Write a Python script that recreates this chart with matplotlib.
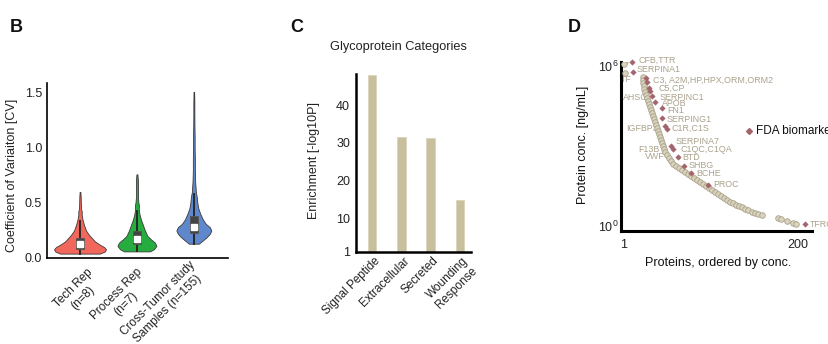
import matplotlib
matplotlib.use("Agg")
import matplotlib.pyplot as plt
import numpy as np

plt.rcParams['font.family'] = ['Liberation Sans', 'DejaVu Sans']
plt.rcParams['mathtext.fontset'] = 'custom'
plt.rcParams['mathtext.rm'] = 'Liberation Sans'
plt.rcParams['mathtext.it'] = 'Liberation Sans:italic'

W, H = 829, 344

# ---------------- Panel B data ----------------
cv_groups = ["Tech Rep\n(n=8)", "Process Rep\n(n=7)", "Cross-Tumor study\nSamples (n=155)"]
cv_colors = ["#f2675c", "#27ad3f", "#5f87cc"]
# violin density profiles: CV level -> relative half width
tech_y = [0.04, 0.06, 0.08, 0.10, 0.12, 0.15, 0.18, 0.21, 0.25, 0.30, 0.35, 0.40, 0.42, 0.45, 0.50, 0.55, 0.60]
tech_w = [20, 25, 26, 24, 20, 15, 12, 9, 6, 4, 2.5, 1.6, 1.8, 1.0, 0.8, 0.7, 0.4]
proc_y = [0.06, 0.08, 0.11, 0.14, 0.17, 0.20, 0.25, 0.30, 0.35, 0.40, 0.45, 0.48, 0.50, 0.55, 0.60, 0.70, 0.76]
proc_w = [13, 17, 19.5, 18, 14, 10.5, 8, 6, 4, 2.5, 1.8, 2.0, 1.5, 1.0, 1.0, 1.0, 0.5]
tumor_y = [0.13, 0.16, 0.19, 0.22, 0.25, 0.28, 0.31, 0.35, 0.40, 0.45, 0.50, 0.55, 0.60, 0.70, 0.80, 0.90, 1.00, 1.10, 1.20, 1.30, 1.40, 1.51]
tumor_w = [5, 9, 13, 16, 17.5, 16, 12, 9, 6.5, 4.5, 3.5, 3, 2, 1.3, 1, 1, 0.8, 0.8, 0.6, 0.5, 0.5, 0.3]
cv_q1 = [0.08, 0.125, 0.23]
cv_med = [0.125, 0.17, 0.28]
cv_q3 = [0.18, 0.245, 0.38]
cv_wlo = [0.04, 0.06, 0.13]
cv_whi = [0.34, 0.43, 0.58]

# ---------------- Panel C data ----------------
go_terms = ["Signal Peptide", "Extracellular", "Secreted", "Wounding\nResponse"]
go_enrich = [48.0, 31.6, 31.2, 14.7]

# ---------------- Panel D data ----------------
prot_rank = [2, 1, 2, 23, 23, 23, 24, 24, 25, 26, 27, 28, 30, 31, 32, 33, 34, 35, 36, 38, 39, 40, 41, 42,
             43, 44, 46, 47, 48, 50, 52, 55, 57, 60, 64, 67, 71, 74, 78, 81, 85, 88, 91, 95, 98, 102, 105,
             109, 112, 115, 119, 122, 126, 129, 133, 136, 139, 143, 147, 151, 154, 159, 177, 181, 187, 194, 198]
prot_log = [6.18, 6.07, 5.73, 5.58, 5.47, 5.36, 5.24, 5.13, 5.02, 4.91, 4.79, 4.68, 4.57, 4.46, 4.34, 4.23,
            4.12, 4.01, 3.90, 3.78, 3.67, 3.56, 3.45, 3.33, 3.22, 3.11, 3.00, 2.88, 2.77, 2.66, 2.55, 2.43,
            2.32, 2.25, 2.17, 2.10, 2.02, 1.95, 1.87, 1.80, 1.72, 1.65, 1.57, 1.50, 1.42, 1.35, 1.27, 1.20,
            1.12, 1.05, 0.97, 0.90, 0.86, 0.79, 0.75, 0.71, 0.64, 0.60, 0.52, 0.49, 0.45, 0.41, 0.30, 0.26,
            0.19, 0.11, 0.07]
fda_rank = [10, 11, 26, 27, 30, 31, 33, 36, 44, 45, 48, 50, 55, 57, 63, 70, 78, 97, 208]
fda_log = [6.14, 5.77, 5.54, 5.39, 5.17, 5.06, 4.87, 4.64, 4.42, 4.04, 3.75, 3.63, 3.00, 2.88, 2.58, 2.25,
           1.99, 1.54, 0.07]
gene_labels = ["CFB,TTR", "SERPINA1", "TF", "C3, A2M,HP,HPX,ORM,ORM2", "C5,CP", "AHSG", "SERPINC1", "APOB",
               "FN1", "SERPING1", "IGFBP3", "C1R,C1S", "SERPINA7", "F13B", "C1QC,C1QA", "VWF", "BTD",
               "SHBG", "BCHE", "PROC", "TFRC"]
gene_rank = [18, 15, 10, 34, 41, 29, 42, 44, 50, 50, 40, 55, 60, 42, 66, 48, 68, 75, 84, 103, 214]
gene_log = [6.22, 5.88, 5.51, 5.47, 5.17, 4.83, 4.83, 4.61, 4.34, 4.01, 3.67, 3.67, 3.15, 2.88, 2.85, 2.62,
            2.58, 2.25, 1.95, 1.54, 0.07]
gene_side = ["l", "l", "r", "l", "l", "r", "l", "l", "l", "l", "r", "l", "l", "r", "l", "r", "l", "l", "l", "l", "l"]


def rect(l, t, r, b):
    return [l / W, 1 - b / H, (r - l) / W, (b - t) / H]


fig = plt.figure(figsize=(W / 100, H / 100), dpi=100)
TXT = "#222222"

# ================= Panel B =================
axB = fig.add_axes(rect(47, 83, 228, 258))
px_per_group = 57.0
profiles = [(tech_y, tech_w), (proc_y, proc_w), (tumor_y, tumor_w)]
for i, (yy, ww) in enumerate(profiles):
    yy = np.array(yy)
    ww = np.array(ww) / px_per_group
    axB.fill_betweenx(yy, i - ww, i + ww, facecolor=cv_colors[i], edgecolor="#3a3a3a", linewidth=0.6, zorder=2)
    axB.plot([i, i], [cv_wlo[i], cv_whi[i]], color="#222222", lw=1.3, zorder=3)
    axB.add_patch(plt.Rectangle((i - 0.075, cv_q1[i]), 0.15, cv_q3[i] - cv_q1[i],
                                facecolor="#444444", edgecolor="#555555", lw=0.6, zorder=4))
    axB.plot([i], [cv_med[i]], marker="s", ms=4.2, color="white", mec="white", zorder=5)
axB.set_xlim(-0.58, 2.6)
axB.set_ylim(0, 1.59)
axB.set_yticks([0, 0.5, 1.0, 1.5])
axB.set_yticklabels(["0.0", "0.5", "1.0", "1.5"])
axB.set_xticks([0, 1, 2])
axB.set_xticklabels([])
axB.tick_params(length=0, labelsize=9, pad=3.6, colors=TXT)
b_off = [(4.4, -5.8), (-0.7, -5.8), (-3.6, -0.8)]
for i, lab in enumerate(cv_groups):
    axB.annotate(lab, xy=(i, 0), xycoords=("data", "axes fraction"), xytext=b_off[i],
                 textcoords="offset points", rotation=45, ha="right", va="top",
                 rotation_mode="anchor", multialignment="center", fontsize=8.5, color=TXT,
                 annotation_clip=False)
for s in ["top", "right"]:
    axB.spines[s].set_visible(False)
for s in ["left", "bottom"]:
    axB.spines[s].set_linewidth(1.2)
axB.set_ylabel("Coefficient of Variaiton [CV]", fontsize=9, color=TXT)
axB.yaxis.set_label_coords(18 / W, 1 - 175 / H, transform=fig.transFigure)

# ================= Panel C =================
axC = fig.add_axes(rect(356, 74, 471, 252))
xC = np.arange(len(go_terms))
axC.bar(xC, go_enrich, width=0.29, color="#c8c09c", edgecolor="#d8d2b8", linewidth=0.5, bottom=0)
axC.set_xlim(-0.55, 3.38)
axC.set_ylim(1, 48.3)
axC.set_yticks([1, 10, 20, 30, 40])
axC.set_yticklabels(["1", "10", "20", "30", "40"])
axC.set_xticks(xC)
axC.set_xticklabels([])
axC.tick_params(length=0, labelsize=9, pad=4.3, colors=TXT)
for i, lab in enumerate(go_terms):
    axC.annotate(lab, xy=(i, 0), xycoords=("data", "axes fraction"), xytext=(1.2, -2.2),
                 textcoords="offset points", rotation=45, ha="right", va="top",
                 rotation_mode="anchor", multialignment="right", fontsize=8.5, color=TXT,
                 annotation_clip=False)
for s in ["top", "right"]:
    axC.spines[s].set_visible(False)
for s in ["left", "bottom"]:
    axC.spines[s].set_linewidth(1.8)
axC.set_ylabel("Enrichment [-log10P]", fontsize=9, color=TXT)
axC.yaxis.set_label_coords(320 / W, 1 - 161 / H, transform=fig.transFigure)
fig.text(398 / W, 1 - 47 / H, "Glycoprotein Categories", ha="center", va="center", fontsize=9.2, color=TXT)

# ================= Panel D =================
axD = fig.add_axes(rect(621, 62, 812, 231))
axD.set_yscale("log")
axD.set_xlim(-2.4, 216)
axD.set_ylim(10 ** -0.19, 10 ** 6.15)
gene_col = "#aaa28c"
for name, r, lg, side in zip(gene_labels, gene_rank, gene_log, gene_side):
    axD.text(r, 10 ** lg, name, ha="left" if side == "l" else "right", va="center",
             fontsize=6.4, color=gene_col, zorder=1, clip_on=False)
axD.scatter(prot_rank, 10 ** np.array(prot_log), s=16, facecolor="#d9d3bd", edgecolor="#a9a18a",
            linewidth=0.6, zorder=3)
axD.scatter(fda_rank, 10 ** np.array(fda_log), s=8, marker="D", facecolor="#a3646c", edgecolor="#a3646c",
            linewidth=0.3, zorder=4, clip_on=False)
axD.set_xticks([1, 200])
axD.set_xticklabels(["1", "200"])
axD.set_yticks([1, 1e6])
axD.set_yticklabels(["10$^0$", "10$^6$"])
axD.yaxis.set_minor_locator(matplotlib.ticker.NullLocator())
axD.tick_params(axis="y", length=0, labelsize=9, pad=1.5, colors=TXT)
axD.tick_params(axis="x", length=0, labelsize=9, pad=6, colors=TXT)
for s in ["top", "right"]:
    axD.spines[s].set_visible(False)
for s in ["left", "bottom"]:
    axD.spines[s].set_linewidth(2.2)
axD.set_xlabel("Proteins, ordered by conc.", fontsize=9, color="#111111")
axD.xaxis.set_label_coords(718 / W, 1 - 257 / H, transform=fig.transFigure)
axD.set_ylabel("Protein conc. [ng/mL]", fontsize=9, color="#111111")
axD.yaxis.set_label_coords(589 / W, 1 - 145 / H, transform=fig.transFigure)
# legend
fig.lines.append(plt.Line2D([749 / W], [1 - 131 / H], marker="D", ms=3.0, color="#a3646c",
                            transform=fig.transFigure))
fig.text(756 / W, 1 - 131 / H, "FDA biomarker", ha="left", va="center", fontsize=8.5, color="#111111")

# panel letters
for lbl, x in [("B", 10), ("C", 290), ("D", 568)]:
    fig.text(x / W, 1 - 27 / H, lbl, ha="left", va="center", fontsize=13, fontweight="bold", color="#111111")

fig.savefig("out.png", dpi=100)
